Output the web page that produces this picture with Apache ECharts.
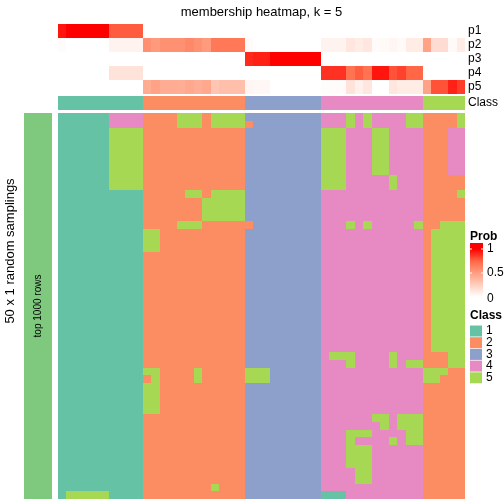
<!DOCTYPE html>
<html><head><meta charset="utf-8">
<script src="https://cdn.jsdelivr.net/npm/echarts@6/dist/echarts.min.js"></script>
<style>html,body{margin:0;padding:0;background:#fff}#c{width:504px;height:504px}</style>
</head><body><div id="c"></div>
<script>
// ---- data ----
const nCols = 48;
const sampleIds = Array.from({length: nCols}, (_, i) => 'S' + (i + 1));
const probNames = ['p1', 'p2', 'p3', 'p4', 'p5'];
const p1 = [0.95,1,1,1,1,1,0.78,0.78,0.78,0.78, 0,0,0,0,0,0,0,0,0,0,0,0, 0,0,0,0,0,0,0,0,0, 0,0,0,0,0,0,0,0,0,0,0,0, 0,0,0,0,0];
const p2 = [0.02,0,0,0,0,0,0.06,0.06,0.06,0.06, 0.57,0.52,0.56,0.56,0.56,0.6,0.56,0.52,0.67,0.67,0.67,0.67, 0.02,0,0,0,0,0,0,0,0, 0.06,0.06,0.06,0.13,0.1,0.13,0.02,0.03,0.05,0.03,0.1,0.1, 0.48,0.18,0.18,0.03,0.1];
const p3 = [0,0,0,0,0,0,0,0,0,0, 0,0,0,0,0,0,0,0,0,0,0,0, 0.9,0.92,0.92,1,1,1,1,1,1, 0,0,0,0,0,0,0,0,0,0,0,0, 0,0,0,0,0];
const p4 = [0,0,0,0,0,0,0.15,0.15,0.15,0.15, 0,0,0,0,0,0,0,0,0,0,0,0, 0,0,0,0,0,0,0,0,0, 0.88,0.88,0.88,0.7,0.77,0.7,0.95,0.95,0.8,0.84,0.75,0.75, 0,0,0,0,0];
const p5 = [0,0,0,0,0,0,0,0,0,0, 0.43,0.48,0.43,0.43,0.42,0.45,0.42,0.45,0.3,0.33,0.33,0.33, 0.05,0.04,0.04,0,0,0,0,0,0, 0.01,0.02,0.02,0.15,0.08,0.13,0,0,0.13,0.1,0.1,0.1, 0.48,0.8,0.8,0.92,0.85];
const columnClass = [1,1,1,1,1,1,1,1,1,1, 2,2,2,2,2,2,2,2,2,2,2,2, 3,3,3,3,3,3,3,3,3, 4,4,4,4,4,4,4,4,4,4,4,4, 5,5,5,5,5];
const classNames = ['1', '2', '3', '4', '5'];
const classColors = ['#66C2A5', '#FC8D62', '#8DA0CB', '#E78AC3', '#A6D854'];
const probTicks = ['1', '0.5', '0'];
// 50 sampling rows, class per column (segments per column group)
const samplingRows = [
  ["1111114444","222255525555","333333333","444545444455","22225"],
  ["1111114444","222255525555","233333333","444545444455","22225"],
  ["1111115555","222222222222","333333333","555444554444","22244"],
  ["1111115555","222222222222","333333333","555444554444","22244"],
  ["1111115555","222222222222","333333333","555444554444","22244"],
  ["1111115555","222222222222","333333333","555444554444","22244"],
  ["1111115555","222222222222","333333333","555444554444","22244"],
  ["1111115555","222222222222","333333333","555444554444","22244"],
  ["1111115555","222222222222","333333333","555444445444","22222"],
  ["1111115555","222222222222","333333333","555444445444","22222"],
  ["1111111111","222225525555","333333333","444444444444","22225"],
  ["1111111111","222222255555","333333333","444444444444","22222"],
  ["1111111111","222222255555","333333333","444444444444","22222"],
  ["1111111111","222222255555","333333333","444444444444","22222"],
  ["1111111111","222255522222","233333333","444545444445","22555"],
  ["1111111111","552222222222","333333333","444444444444","25555"],
  ["1111111111","552222222222","333333333","444444444444","25555"],
  ["1111111111","552222222222","333333333","444444444444","25555"],
  ["1111111111","222222222222","333333333","444444444444","25555"],
  ["1111111111","222222222222","333333333","444444444444","25555"],
  ["1111111111","222222222222","333333333","444444444444","25555"],
  ["1111111111","222222222222","333333333","444444444444","25555"],
  ["1111111111","222222222222","333333333","444444444444","25555"],
  ["1111111111","222222222222","333333333","444444444444","25555"],
  ["1111111111","222222222222","333333333","444444444444","25555"],
  ["1111111111","222222222222","333333333","444444444444","25555"],
  ["1111111111","222222222222","333333333","444444444444","25555"],
  ["1111111111","222222222222","333333333","444444444444","25555"],
  ["1111111111","222222222222","333333333","444444444444","25555"],
  ["1111111111","222222222222","333333333","444444444444","25555"],
  ["1111111111","222222222222","333333333","444444444444","25555"],
  ["1111111111","222222222222","333333333","455544445444","22255"],
  ["1111111111","222222222222","333333333","444544445455","22255"],
  ["1111111111","552222522222","555333333","444444444444","55522"],
  ["1111111111","252222522222","555333333","444444444444","55222"],
  ["1111111111","552222222222","333333333","444444444444","22222"],
  ["1111111111","552222222222","333333333","444444444444","22222"],
  ["1111111111","552222222222","333333333","444444444444","22222"],
  ["1111111111","552222222222","333333333","444444444444","22222"],
  ["1111111111","222222222222","333333333","444444554555","22222"],
  ["1111111111","222222222222","333333333","444444454555","22222"],
  ["1111111111","222222222222","333333333","444555444455","22222"],
  ["1111111111","222222222222","333333333","444544445455","22222"],
  ["1111111111","222222222222","333333333","444555444444","22222"],
  ["1111111111","222222222222","333333333","444555444444","22222"],
  ["1111111111","222222222222","333333333","444555444444","22222"],
  ["1111111111","222222222222","333333333","444455444444","22222"],
  ["1111111111","222222222222","333333333","444455444444","22222"],
  ["1111111111","222222225222","333333333","444444444444","22222"],
  ["1555551111","222222222222","333333333","111444444444","22222"]
];

// ---- build ----
const FONT = 'Liberation Sans, Arial, Helvetica, sans-serif';
const probArrays = [p1, p2, p3, p4, p5];
const probData = [];
probArrays.forEach((arr, r) => arr.forEach((v, c) => probData.push([c, r, v])));
const annData = columnClass.map((v, c) => [c, 0, v]);
const mainData = [];
const rowIds = samplingRows.map((_, i) => 'R' + (i + 1));
samplingRows.forEach((segs, r) => {
  const s = segs.join('');
  for (let c = 0; c < nCols; c++) mainData.push([c, r, +s[c]]);
});

const L = 58, W = 407;
function renderCell(params, api) {
  const p = api.coord([api.value(0), api.value(1)]);
  const s = api.size([1, 1]);
  const x0 = Math.round(p[0] - s[0] / 2), x1 = Math.round(p[0] + s[0] / 2);
  const y0 = Math.round(p[1] - s[1] / 2), y1 = Math.round(p[1] + s[1] / 2);
  return {type: 'rect', shape: {x: x0, y: y0, width: x1 - x0, height: y1 - y0},
          style: {fill: api.visual('color')}};
}
const cells = (xi, data) => ({
  type: 'custom', xAxisIndex: xi, yAxisIndex: xi, data,
  dimensions: ['col', 'row', 'value'], encode: {x: 0, y: 1},
  renderItem: renderCell, silent: true, progressive: 0
});
const hiddenX = (gi, data) => ({type: 'category', gridIndex: gi, data, show: false, boundaryGap: true});

const graphics = [
  {type: 'text', z: 100, x: 261.5, y: 12, style: {text: 'membership heatmap, k = 5', font: '13px ' + FONT, fill: '#000', textAlign: 'center', textVerticalAlign: 'middle'}},
  {type: 'text', z: 100, x: 10, y: 251, rotation: Math.PI / 2, style: {text: '50 x 1 random samplings', font: '13px ' + FONT, fill: '#000', textAlign: 'center', textVerticalAlign: 'middle'}},
  {type: 'text', z: 100, x: 38, y: 306, rotation: Math.PI / 2, style: {text: 'top 1000 rows', font: '10px ' + FONT, fill: '#000', textAlign: 'center', textVerticalAlign: 'middle'}},
  {type: 'text', z: 100, x: 470, y: 237, style: {text: 'Prob', font: 'bold 12px ' + FONT, fill: '#000', textAlign: 'left', textVerticalAlign: 'middle'}},
  {type: 'rect', z: 100, shape: {x: 470, y: 243, width: 13, height: 60}, style: {fill: new echarts.graphic.LinearGradient(0, 0, 0, 1, [
    {offset: 0, color: '#FF0000'}, {offset: 0.1, color: '#FF0000'}, {offset: 0.3, color: '#FF6746'},
    {offset: 0.5, color: '#FF9E81'}, {offset: 0.7, color: '#FFCFBF'}, {offset: 0.9, color: '#FFFFFF'}, {offset: 1, color: '#FFFFFF'}])}},
  {type: 'text', z: 100, x: 470, y: 316, style: {text: 'Class', font: 'bold 12px ' + FONT, fill: '#000', textAlign: 'left', textVerticalAlign: 'middle'}}
];
const tickYs = [249, 273, 297];
probTicks.forEach((t, i) => {
  graphics.push({type: 'line', z: 101, shape: {x1: 470, y1: tickYs[i], x2: 472, y2: tickYs[i]}, style: {stroke: '#fff', lineWidth: 1}});
  graphics.push({type: 'line', z: 101, shape: {x1: 481, y1: tickYs[i], x2: 483, y2: tickYs[i]}, style: {stroke: '#fff', lineWidth: 1}});
  graphics.push({type: 'text', z: 100, x: 487, y: i === 2 ? 299 : tickYs[i], style: {text: t, font: '12px ' + FONT, fill: '#000', textAlign: 'left', textVerticalAlign: 'middle'}});
});
classNames.forEach((n, i) => {
  const y = 325.5 + i * 11.7;
  graphics.push({type: 'rect', z: 100, shape: {x: 470, y: y, width: 12, height: 11}, style: {fill: classColors[i]}});
  graphics.push({type: 'text', z: 100, x: 486, y: y + 5.5, style: {text: n, font: '12px ' + FONT, fill: '#000', textAlign: 'left', textVerticalAlign: 'middle'}});
});

const option = {
  backgroundColor: '#fff',
  animation: false,
  grid: [
    {left: L, top: 24, width: W, height: 70},
    {left: L, top: 96, width: W, height: 14},
    {left: L, top: 113, width: W, height: 386},
    {left: 24, top: 113, width: 28, height: 386}
  ],
  xAxis: [hiddenX(0, sampleIds), hiddenX(1, sampleIds), hiddenX(2, sampleIds), hiddenX(3, ['all'])],
  yAxis: [
    {type: 'category', gridIndex: 0, data: probNames, inverse: true, position: 'right',
     axisLine: {show: false}, axisTick: {show: false}, splitLine: {show: false},
     axisLabel: {interval: 0, color: '#000', fontSize: 12, fontFamily: FONT, margin: 3}},
    {type: 'category', gridIndex: 1, data: ['Class'], position: 'right',
     axisLine: {show: false}, axisTick: {show: false}, splitLine: {show: false},
     axisLabel: {interval: 0, color: '#000', fontSize: 12, fontFamily: FONT, margin: 3}},
    {type: 'category', gridIndex: 2, data: rowIds, inverse: true, show: false},
    {type: 'category', gridIndex: 3, data: ['top 1000 rows'], show: false}
  ],
  visualMap: [
    {type: 'continuous', seriesIndex: 0, dimension: 2, min: 0, max: 1, show: false,
     inRange: {color: ['#FFFFFF', '#FFCFBF', '#FF9E81', '#FF6746', '#FF0000']}},
    {type: 'piecewise', seriesIndex: [1, 2], dimension: 2, show: false,
     pieces: classNames.map((n, i) => ({value: i + 1, color: classColors[i]}))},
    {type: 'piecewise', seriesIndex: 3, dimension: 2, show: false,
     pieces: [{value: 1, color: '#7FC97F'}]}
  ],
  series: [cells(0, probData), cells(1, annData), cells(2, mainData), cells(3, [[0, 0, 1]])],
  graphic: graphics
};
const chart = echarts.init(document.getElementById('c'), null, {renderer: 'canvas'});
chart.setOption(option);
</script></body></html>
